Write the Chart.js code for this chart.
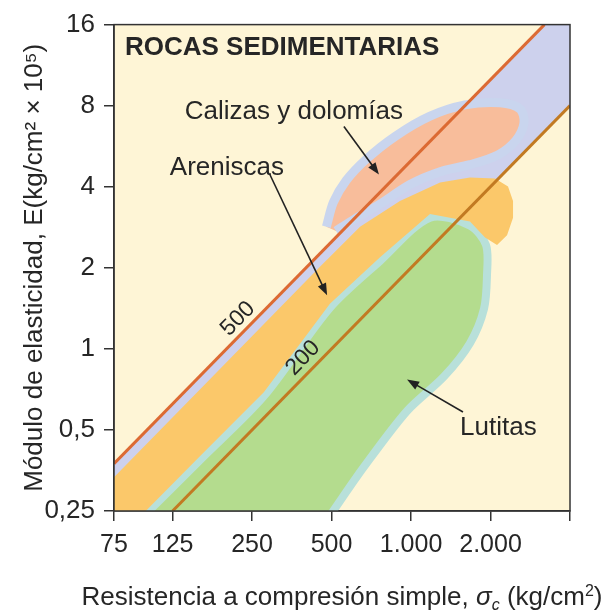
<!DOCTYPE html>
<html>
<head>
<meta charset="utf-8">
<script src="https://cdn.jsdelivr.net/npm/chart.js@4.4.1/dist/chart.umd.min.js"></script>
<style>
  html, body { margin: 0; padding: 0; background: #fff; }
  #wrap { width: 610px; height: 615px; }
</style>
</head>
<body>
<div id="wrap"><canvas id="chart" width="610" height="615"></canvas></div>
<script>
// --- axis ticks ---
const xTickValues = [75, 125, 250, 500, 1000, 2000, 4000];
const xTickLabels = ['75', '125', '250', '500', '1.000', '2.000', ''];
const yTickValues = [0.25, 0.5, 1, 2, 4, 8, 16];
const yTickLabels = ['0,25', '0,5', '1', '2', '4', '8', '16'];

// --- modulus ratio lines (E / sigma_c) ---
const line500X = [75, 3200];
const line500Y = [0.375, 16];
const line200X = [125, 4000];
const line200Y = [0.25, 8];

// band between the two ratio lines
const bandX = [75, 3200, 4000, 4000, 125, 75];
const bandY = [0.375, 16, 16, 8, 0.25, 0.25];

// Areniscas
const arenX = [69.9, 245.6, 448, 641, 908, 1288, 1672, 2080, 2330, 2434, 2434, 2310, 2117, 1907, 1672, 1180, 763, 493, 277, 159, 93.3, 69.9];
const arenY = [0.311, 1.094, 2.0, 2.84, 3.54, 4.15, 4.33, 4.29, 4.01, 3.54, 3.07, 2.64, 2.43, 2.59, 2.97, 3.17, 2.19, 1.47, 0.69, 0.40, 0.236, 0.236];

// Lutitas
const lutX = [94.1, 159, 277, 493, 763, 1180, 1672, 1923, 1940, 1890, 1672, 1333, 966, 664, 493];
const lutY = [0.232, 0.387, 0.667, 1.42, 2.12, 3.07, 2.87, 2.43, 1.89, 1.41, 1.05, 0.789, 0.588, 0.365, 0.240];

// Calizas y dolomías
const calX = [478, 508, 568, 675, 870, 1175, 1601, 2173, 2587, 2679, 2498, 2135, 1672, 1288, 991, 763, 614, 520];
const calY = [2.84, 3.50, 4.22, 5.05, 6.15, 7.30, 8.05, 8.20, 7.78, 6.92, 5.95, 5.25, 4.83, 4.55, 4.08, 3.45, 3.04, 2.74];

const FAMILY = '"Liberation Sans", Arial, Helvetica, sans-serif';
const INK = '#262626';

Chart.defaults.font.family = FAMILY;
Chart.defaults.color = INK;

const pts = (xs, ys) => xs.map((x, i) => ({ x: x, y: ys[i] }));

function region(data, fill, rim, rimWidth, order) {
    return {
        data: data,
        showLine: true,
        fill: 'shape',
        backgroundColor: fill,
        borderColor: rim,
        borderWidth: rimWidth,
        tension: rimWidth ? 0.3 : 0,
        pointRadius: 0,
        clip: 0,
        order: order
    };
}

function ratioLine(data, color, order) {
    return {
        data: data,
        showLine: true,
        fill: false,
        borderColor: color,
        borderWidth: 3,
        pointRadius: 0,
        clip: 0,
        order: order
    };
}

// text labels and arrows placed in data coordinates
const notes = [
    { text: 'ROCAS SEDIMENTARIAS', x: 82.5, y: 13.1, bold: true },
    { text: 'Calizas y dolomías', x: 139, y: 7.6 },
    { text: 'Areniscas', x: 122, y: 4.70 },
    { text: 'Lutitas', x: 1533, y: 0.51 }
];
const arrows = [
    { from: [557, 6.69], to: [756, 4.44] },
    { from: [292, 4.44], to: [481, 1.58] },
    { from: [1573, 0.583], to: [966, 0.769] }
];
const lineTags = [
    { text: '500', x: 221, y: 1.293, lx: line500X, ly: line500Y },
    { text: '200', x: 390, y: 0.925, lx: line200X, ly: line200Y }
];

function drawArrow(ctx, x0, y0, x1, y1) {
    const ang = Math.atan2(y1 - y0, x1 - x0);
    const head = 12, half = 4.5;
    ctx.beginPath();
    ctx.moveTo(x0, y0);
    ctx.lineTo(x1 - head * 0.8 * Math.cos(ang), y1 - head * 0.8 * Math.sin(ang));
    ctx.stroke();
    ctx.beginPath();
    ctx.moveTo(x1, y1);
    ctx.lineTo(x1 - head * Math.cos(ang) + half * Math.sin(ang), y1 - head * Math.sin(ang) - half * Math.cos(ang));
    ctx.lineTo(x1 - head * Math.cos(ang) - half * Math.sin(ang), y1 - head * Math.sin(ang) + half * Math.cos(ang));
    ctx.closePath();
    ctx.fill();
}

const panelPlugin = {
    id: 'panel',
    beforeDraw(chart) {
        const { ctx, chartArea: a } = chart;
        ctx.save();
        ctx.fillStyle = '#ffffff';
        ctx.fillRect(0, 0, chart.width, chart.height);
        ctx.fillStyle = '#fef5d6';
        ctx.fillRect(a.left, a.top, a.width, a.height);
        ctx.restore();
    },
    afterDatasetsDraw(chart) {
        const { ctx, chartArea: a, scales } = chart;
        const sx = v => scales.x.getPixelForValue(v);
        const sy = v => scales.y.getPixelForValue(v);
        ctx.save();

        // labels
        ctx.fillStyle = INK;
        ctx.textBaseline = 'middle';
        ctx.textAlign = 'left';
        notes.forEach(n => {
            ctx.font = (n.bold ? 'bold ' : '') + '26px ' + FAMILY;
            ctx.fillText(n.text, sx(n.x), sy(n.y));
        });

        // rotated tags on the ratio lines
        ctx.font = '23px ' + FAMILY;
        ctx.textAlign = 'center';
        lineTags.forEach(t => {
            const ang = Math.atan2(sy(t.ly[1]) - sy(t.ly[0]), sx(t.lx[1]) - sx(t.lx[0]));
            ctx.save();
            ctx.translate(sx(t.x), sy(t.y));
            ctx.rotate(ang);
            ctx.fillText(t.text, 0, 0);
            ctx.restore();
        });

        // arrows
        ctx.strokeStyle = '#222';
        ctx.fillStyle = '#222';
        ctx.lineWidth = 1.6;
        arrows.forEach(r => drawArrow(ctx, sx(r.from[0]), sy(r.from[1]), sx(r.to[0]), sy(r.to[1])));

        // frame
        ctx.strokeStyle = '#333';
        ctx.lineWidth = 1.5;
        ctx.strokeRect(a.left, a.top, a.width, a.height);
        ctx.restore();
    },
    afterDraw(chart) {
        // x axis title with italic sigma and subscript
        const { ctx, chartArea: a } = chart;
        const size = 26;
        const parts = [
            { t: 'Resistencia a compresión simple, ', f: size + 'px ' + FAMILY, dy: 0 },
            { t: 'σ', f: 'italic ' + size + 'px ' + FAMILY, dy: 0 },
            { t: 'c', f: 'italic ' + Math.round(size * 0.6) + 'px ' + FAMILY, dy: 5 },
            { t: ' (kg/cm', f: size + 'px ' + FAMILY, dy: 0 },
            { t: '2', f: Math.round(size * 0.6) + 'px ' + FAMILY, dy: -9 },
            { t: ')', f: size + 'px ' + FAMILY, dy: 0 }
        ];
        ctx.save();
        let total = 0;
        parts.forEach(p => { ctx.font = p.f; p.w = ctx.measureText(p.t).width; total += p.w; });
        let x = (a.left + a.right) / 2 - total / 2;
        const y = 605;
        ctx.fillStyle = INK;
        ctx.textBaseline = 'alphabetic';
        ctx.textAlign = 'left';
        parts.forEach(p => { ctx.font = p.f; ctx.fillText(p.t, x, y + p.dy); x += p.w; });
        ctx.restore();
    }
};

new Chart(document.getElementById('chart'), {
    type: 'scatter',
    data: {
        datasets: [
            ratioLine(pts(line500X, line500Y), '#dc6a33', 1),
            ratioLine(pts(line200X, line200Y), '#c27a22', 2),
            region(pts(calX, calY), '#f8bd9b', '#c9d5ee', 9, 3),
            region(pts(arenX, arenY), '#fbc86a', '#fbc86a', 0, 4),
            region(pts(lutX, lutY), '#b4dc8e', '#b8e0da', 8, 5),
            region(pts(bandX, bandY), '#cdd1ed', '#cdd1ed', 0, 6)
        ]
    },
    options: {
        responsive: false,
        animation: false,
        events: [],
        layout: { padding: { top: 15, right: 40, left: 0, bottom: 0 } },
        plugins: {
            legend: { display: false },
            tooltip: { enabled: false }
        },
        scales: {
            x: {
                type: 'logarithmic',
                min: 75,
                max: 4000,
                afterBuildTicks: s => { s.ticks = xTickValues.map(v => ({ value: v })); },
                afterFit: s => { s.height = 104; },
                ticks: {
                    autoSkip: false,
                    maxRotation: 0,
                    padding: 9,
                    color: INK,
                    font: { size: 25 },
                    callback: (v, i) => xTickLabels[i]
                },
                grid: { drawOnChartArea: false, drawTicks: true, tickLength: 10, color: '#333', lineWidth: 1.5 },
                border: { display: true, color: '#333', width: 1.5 }
            },
            y: {
                type: 'logarithmic',
                min: 0.25,
                max: 16,
                afterBuildTicks: s => { s.ticks = yTickValues.map(v => ({ value: v })); },
                afterFit: s => { s.width = 114; },
                ticks: {
                    autoSkip: false,
                    padding: 9,
                    color: INK,
                    font: { size: 26 },
                    callback: (v, i) => yTickLabels[i]
                },
                grid: { drawOnChartArea: false, drawTicks: true, tickLength: 10, color: '#333', lineWidth: 1.5 },
                border: { display: true, color: '#333', width: 1.5 },
                title: {
                    display: true,
                    text: 'Módulo de elasticidad, E(kg/cm² × 10⁵)',
                    color: INK,
                    font: { size: 26 },
                    padding: { top: 19, bottom: 0 }
                }
            }
        }
    },
    plugins: [panelPlugin]
});
</script>
</body>
</html>
